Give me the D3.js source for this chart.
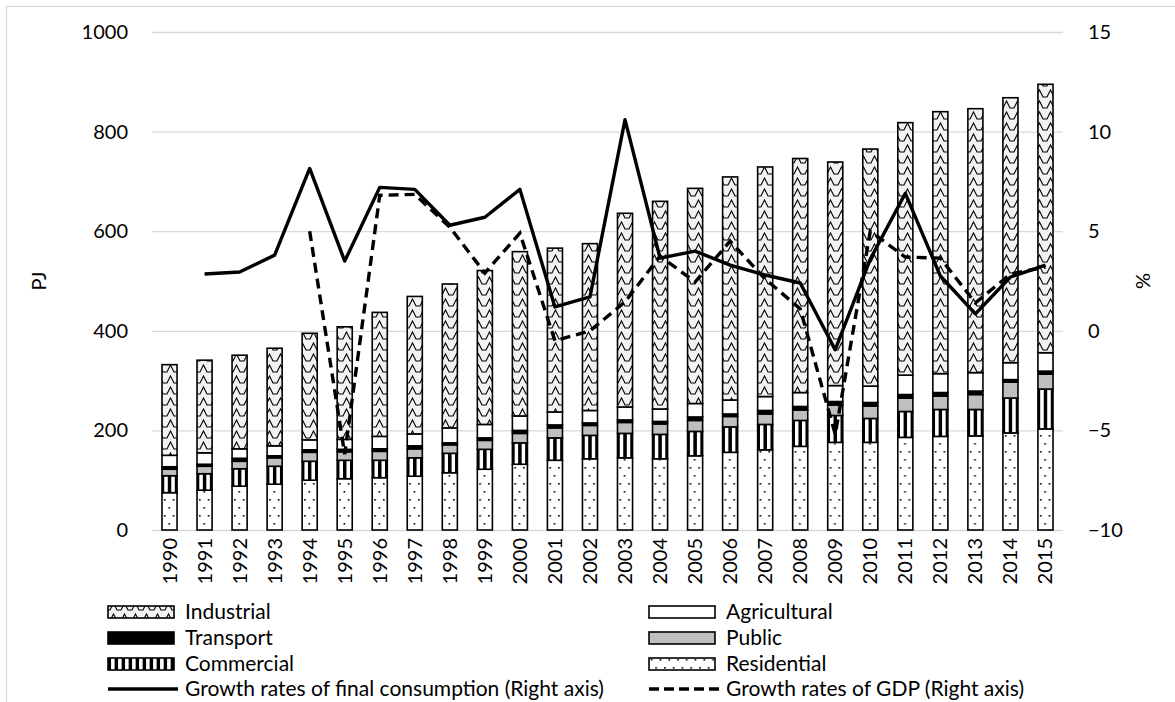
<!DOCTYPE html>
<html>
<head>
<meta charset="utf-8">
<script src="https://cdn.jsdelivr.net/npm/d3@7"></script>
<style>
  body { margin: 0; background: #fff; }
  text { font-family: Lato, "Open Sans", sans-serif; fill: #000; }
</style>
</head>
<body>
<div id="chart"></div>
<script>
// data (PJ per sector, % growth on right axis)
var years = [1990,1991,1992,1993,1994,1995,1996,1997,1998,1999,2000,2001,2002,
             2003,2004,2005,2006,2007,2008,2009,2010,2011,2012,2013,2014,2015];

var residential  = [75,80,88,92,100,103,105,108,115,122,132,140,143,145,143,149,156,161,168,176,176,186,188,189,195,203];
var commercial   = [34,33,35,36,38,37,35,37,39,40,43,45,47,49,49,49,51,51,52,54,48,52,54,53,70,80];
var publicSec    = [13,15,15,17,18,17,18,18,17,18,19,20,20,22,21,22,21,21,21,21,25,27,27,30,32,30];
var transport    = [5,4,6,4,5,5,5,6,4,5,6,6,5,5,5,7,5,7,7,7,7,7,7,7,5,6];
var agricultural = [23,23,19,20,20,20,25,24,30,27,29,26,25,26,25,27,28,28,28,32,33,39,38,37,34,37];
var industrial   = [182,186,188,196,214,226,249,276,289,309,330,329,335,389,417,432,448,461,470,449,476,507,526,530,532,539];

var consumptionGrowth = [null,2.85,2.95,3.8,8.15,3.5,7.2,7.1,5.3,5.7,7.1,1.2,1.7,10.6,3.65,4.0,3.3,2.8,2.4,-0.95,3.6,6.9,2.75,0.85,2.7,3.3];
var gdpGrowth         = [null,null,null,null,5.0,-6.2,6.8,6.85,5.2,2.9,4.9,-0.5,0.0,1.45,3.75,2.45,4.5,2.6,1.1,-5.2,5.0,3.7,3.65,1.4,2.85,3.2];

var leftTicks  = [0,200,400,600,800,1000];
var rightTicks = [-10,-5,0,5,10,15];

var keys = ["Residential","Commercial","Public","Transport","Agricultural","Industrial"];

var table = years.map(function(y, i) {
  return { year: y, Residential: residential[i], Commercial: commercial[i], Public: publicSec[i],
           Transport: transport[i], Agricultural: agricultural[i], Industrial: industrial[i] };
});

var width = 1175, height = 702;
var plot = { left: 152, right: 1063, top: 32, bottom: 530 };

var svg = d3.select("#chart").append("svg")
    .attr("width", width)
    .attr("height", height);

// chart frame
svg.append("rect")
    .attr("x", 6.5).attr("y", 6.5)
    .attr("width", 1200).attr("height", 800)
    .attr("fill", "none")
    .attr("stroke", "#d9d9d9")
    .attr("stroke-width", 1.3);

var x = d3.scaleBand().domain(years)
    .range([plot.left, plot.right])
    .paddingInner(0.57).paddingOuter(0.285);

var yL = d3.scaleLinear().domain([0, 1000]).range([plot.bottom, plot.top]);
var yR = d3.scaleLinear().domain([-10, 15]).range([plot.bottom, plot.top]);

// fill patterns
var defs = svg.append("defs");
var stripeW = x.step() / 5;
var firstMid = x(years[0]) + x.bandwidth() / 2;

var pInd = defs.append("pattern").attr("id", "pInd")
    .attr("patternUnits", "userSpaceOnUse")
    .attr("width", 11).attr("height", 11);
pInd.append("rect").attr("width", 11).attr("height", 11).attr("fill", "#f2f2f2");
pInd.append("path").attr("d", "M0,9 L2,9 L5.5,2 L9,9 L11,9")
    .attr("fill", "none").attr("stroke", "#000").attr("stroke-width", 1.1);

var pCom = defs.append("pattern").attr("id", "pCom")
    .attr("patternUnits", "userSpaceOnUse")
    .attr("x", firstMid - stripeW / 4)
    .attr("width", stripeW).attr("height", 10);
pCom.append("rect").attr("width", stripeW).attr("height", 10).attr("fill", "#fff");
pCom.append("rect").attr("width", stripeW / 2).attr("height", 10).attr("fill", "#000");

var dotW = x.step() / 4;
var pRes = defs.append("pattern").attr("id", "pRes")
    .attr("patternUnits", "userSpaceOnUse")
    .attr("x", x(years[0]))
    .attr("width", dotW).attr("height", 16);
pRes.append("rect").attr("width", dotW).attr("height", 16).attr("fill", "#fff");
pRes.append("rect").attr("x", 2).attr("y", 3).attr("width", 1.6).attr("height", 1.6).attr("fill", "#000");
pRes.append("rect").attr("x", 2 + dotW / 2).attr("y", 11).attr("width", 1.6).attr("height", 1.6).attr("fill", "#000");

var fills = {
  Residential: "url(#pRes)",
  Commercial: "url(#pCom)",
  Public: "#bfbfbf",
  Transport: "#000",
  Agricultural: "#fff",
  Industrial: "url(#pInd)"
};

// gridlines + left axis
var gLeft = svg.append("g")
    .attr("transform", "translate(" + plot.left + ",0)")
    .call(d3.axisLeft(yL).tickValues(leftTicks).tickFormat(d3.format("d"))
        .tickSize(-(plot.right - plot.left)).tickPadding(24));
gLeft.select(".domain").remove();
gLeft.selectAll("line").attr("stroke", "#d9d9d9").attr("stroke-width", 1.3);
gLeft.selectAll("text").style("font-size", "20px").attr("fill", "#000");

// right axis
var gRight = svg.append("g")
    .attr("transform", "translate(" + plot.right + ",0)")
    .call(d3.axisRight(yR).tickValues(rightTicks).tickFormat(d3.format("d"))
        .tickSize(0).tickPadding(25));
gRight.select(".domain").remove();
gRight.selectAll("text").style("font-size", "20px").attr("fill", "#000");

// category axis, rotated labels
var gX = svg.append("g")
    .attr("transform", "translate(0," + plot.bottom + ")")
    .call(d3.axisBottom(x).tickSize(0));
gX.select(".domain").remove();
gX.selectAll("text")
    .style("font-size", "20px")
    .attr("fill", "#000")
    .attr("transform", "rotate(-90)")
    .attr("x", -8).attr("y", 0)
    .attr("dy", "0.35em")
    .style("text-anchor", "end");

// stacked bars
var series = d3.stack().keys(keys)(table);

svg.append("g").selectAll("g")
  .data(series)
  .enter().append("g")
    .attr("fill", function(s) { return fills[s.key]; })
  .selectAll("rect")
  .data(function(s) { return s; })
  .enter().append("rect")
    .attr("x", function(d) { return x(d.data.year); })
    .attr("y", function(d) { return yL(d[1]); })
    .attr("width", x.bandwidth())
    .attr("height", function(d) { return yL(d[0]) - yL(d[1]); })
    .attr("stroke", "#000")
    .attr("stroke-width", 1.6);

// growth lines
var line = function(vals) {
  return d3.line()
    .defined(function(d, i) { return vals[i] !== null; })
    .x(function(d, i) { return x(years[i]) + x.bandwidth() / 2; })
    .y(function(d, i) { return yR(vals[i]); })(vals);
};

svg.append("path")
    .attr("d", line(consumptionGrowth))
    .attr("fill", "none").attr("stroke", "#000")
    .attr("stroke-width", 3.4).attr("stroke-linejoin", "round");

svg.append("path")
    .attr("d", line(gdpGrowth))
    .attr("fill", "none").attr("stroke", "#000")
    .attr("stroke-width", 3.4).attr("stroke-dasharray", "10,6");

// axis titles
svg.append("text")
    .attr("transform", "translate(46," + ((plot.top + plot.bottom) / 2) + ") rotate(-90)")
    .attr("text-anchor", "middle")
    .style("font-size", "20px")
    .text("PJ");

svg.append("text")
    .attr("transform", "translate(1150," + ((plot.top + plot.bottom) / 2) + ") rotate(-90)")
    .attr("text-anchor", "middle")
    .style("font-size", "20px")
    .text("%");

// legend, two columns
var legendItems = [
  { name: "Industrial", fill: fills.Industrial, col: 0, row: 0 },
  { name: "Agricultural", fill: fills.Agricultural, col: 1, row: 0 },
  { name: "Transport", fill: fills.Transport, col: 0, row: 1 },
  { name: "Public", fill: fills.Public, col: 1, row: 1 },
  { name: "Commercial", fill: fills.Commercial, col: 0, row: 2 },
  { name: "Residential", fill: fills.Residential, col: 1, row: 2 },
  { name: "Growth rates of final consumption (Right axis)", line: "solid", col: 0, row: 3 },
  { name: "Growth rates of GDP (Right axis)", line: "dash", col: 1, row: 3 }
];
var colX = [108, 649], rowY = [612, 638, 664, 689], swW = 66;

var leg = svg.append("g").selectAll("g")
  .data(legendItems)
  .enter().append("g")
    .attr("transform", function(d) { return "translate(" + colX[d.col] + "," + rowY[d.row] + ")"; });

leg.filter(function(d) { return !d.line; }).append("rect")
    .attr("x", 0).attr("y", -6)
    .attr("width", swW).attr("height", 12)
    .attr("fill", function(d) { return d.fill; })
    .attr("stroke", "#000").attr("stroke-width", 1.6);

leg.filter(function(d) { return d.line; }).append("line")
    .attr("x1", 0).attr("x2", swW + 4)
    .attr("stroke", "#000").attr("stroke-width", 3.4)
    .attr("stroke-dasharray", function(d) { return d.line === "dash" ? "10,5" : null; });

leg.append("text")
    .attr("x", swW + 11)
    .attr("dy", "0.35em")
    .style("font-size", "21px")
    .text(function(d) { return d.name; });
</script>
</body>
</html>
